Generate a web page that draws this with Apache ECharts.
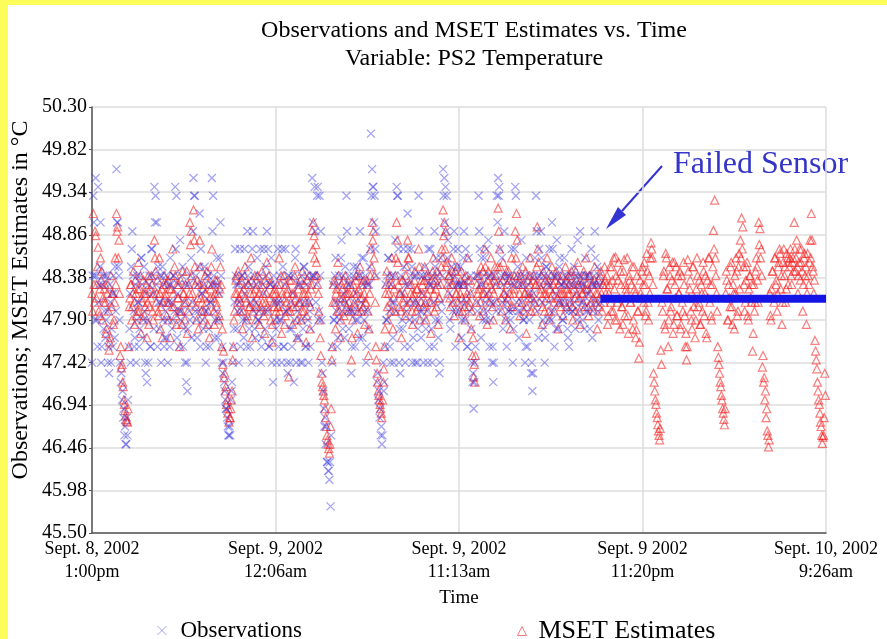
<!DOCTYPE html>
<html>
<head>
<meta charset="utf-8">
<script src="https://cdn.jsdelivr.net/npm/echarts@6/dist/echarts.min.js"></script>
<style>
html,body{margin:0;padding:0;background:#fff;}
#chart{width:887px;height:639px;}
</style>
</head>
<body>
<div id="chart"></div>
<script>
// X axis: sample number (two readings per step: A at even samples, B at odd samples)
const xTickSamples = [0, 300, 600, 900, 1200];
const xTickLabels = ['Sept. 8, 2002\n1:00pm', 'Sept. 9, 2002\n12:06am', 'Sept. 9, 2002\n11:13am', 'Sept. 9 2002\n11:20pm', 'Sept. 10, 2002\n9:26am'];
const yTicks = [45.50, 45.98, 46.46, 46.94, 47.42, 47.90, 48.38, 48.86, 49.34, 49.82, 50.30];

// Observations, even samples (0..830)
const observationsA = [
47.42,49.3,48.4,49.5,47.9,49.4,48.3,49.0,47.6,48.4,48.0,47.7,48.4,47.42,47.3,48.1,47.8,47.6,48.2,48.5,49.6,49.0,48.4,47.42,47.3,47.1,46.9,46.7,46.5,46.6,
47.6,48.2,48.5,48.9,48.0,47.7,47.42,48.4,48.1,47.8,48.6,48.3,47.9,48.0,47.3,47.2,47.42,48.4,47.6,48.7,48.2,49.4,49.3,49.0,48.5,47.8,48.1,48.4,47.9,47.6,
48.0,47.7,47.42,48.3,48.6,48.1,47.9,48.4,49.4,49.3,48.2,47.6,48.8,48.0,48.5,47.8,47.42,47.2,47.1,48.3,47.9,48.6,48.1,49.5,49.3,48.4,47.7,48.0,49.1,48.7,
48.2,47.8,48.5,47.42,48.0,48.4,47.6,48.1,49.5,49.3,48.3,47.9,48.6,47.7,48.2,49.0,47.42,47.3,47.2,47.0,46.9,46.7,46.6,46.6,47.1,47.42,47.8,48.7,48.3,48.0,
47.42,48.7,48.0,48.4,47.7,48.2,47.9,48.9,48.5,47.6,48.3,48.7,48.0,47.8,48.1,48.6,47.9,48.4,47.42,47.7,48.2,48.0,48.5,48.9,48.7,47.6,48.3,47.42,47.2,48.1,
48.3,47.42,48.7,47.9,48.1,47.42,48.5,47.6,48.7,48.0,47.3,48.4,47.42,47.8,48.2,47.2,48.6,47.42,48.0,47.7,48.3,47.9,47.42,48.5,48.1,47.6,48.4,47.42,48.0,47.8,
49.5,48.4,49.4,48.1,49.3,47.9,49.3,48.9,47.42,47.1,46.7,46.5,46.3,46.2,46.1,45.8,47.6,48.3,47.9,48.6,48.0,47.7,48.4,48.1,48.8,47.8,48.2,48.5,49.3,48.0,
47.8,48.3,47.3,48.0,48.5,47.6,48.2,47.9,48.4,48.9,48.1,47.7,48.6,48.0,47.42,48.3,47.8,48.5,50.0,49.6,49.4,49.3,48.9,47.2,47.0,46.8,46.6,46.5,47.42,47.2,
48.3,47.9,48.6,48.0,47.42,48.4,47.7,48.1,48.8,49.4,49.3,47.42,47.3,48.2,47.8,48.5,47.42,48.0,49.1,48.3,47.6,48.7,47.42,48.1,47.9,48.4,47.42,49.3,48.0,47.7,
48.2,47.42,48.5,47.8,48.0,48.7,47.6,48.3,47.42,48.1,48.9,47.9,48.4,47.7,47.3,48.6,48.0,49.6,49.5,49.4,49.3,48.8,48.2,47.8,48.5,48.0,48.9,47.6,48.3,48.7,
48.0,48.5,47.7,48.3,48.9,47.9,48.1,47.6,48.6,48.2,47.8,47.2,46.9,47.42,48.4,48.0,49.3,48.7,47.7,48.3,48.0,48.6,47.9,48.2,48.8,47.6,48.4,47.42,47.2,48.1,
48.3,49.3,49.5,49.4,48.0,48.6,47.8,48.9,48.2,47.6,48.4,48.0,47.9,48.7,47.42,48.3,49.4,48.1,48.5,47.7,48.0,48.8,48.3,47.9,47.42,48.6,47.6,48.2,48.4,47.3,
47.1,48.2,48.6,49.3,48.0,47.7,48.4,48.9,48.1,47.8,47.42,48.5,48.3,47.9,48.7,48.0,49.0,48.4,47.6,48.2,48.8,47.8,48.5,48.1,48.3,47.9,48.6,48.0,48.4,47.7,
47.6,48.3,48.7,48.0,48.5,47.8,48.2,48.8,48.4,48.9,48.1,47.9,48.3,48.6,48.0,48.4,48.2,47.8,48.7,47.7,48.3,48.9,48.1,48.5,47.9,48.3
];
// Observations, odd samples (1..831)
const observationsB = [
48.4,49.0,47.9,48.4,47.6,48.1,48.5,47.42,48.3,47.8,48.4,47.9,48.0,47.6,48.3,47.42,48.2,48.4,47.7,48.0,49.0,48.5,47.9,47.2,47.0,46.8,46.6,46.5,46.8,47.0,
47.8,47.42,48.7,48.4,47.6,48.3,47.9,48.1,47.6,48.4,48.6,47.7,48.5,47.42,48.2,47.9,48.3,47.6,48.7,48.4,47.8,49.0,48.3,47.6,48.1,48.4,47.42,48.5,48.3,47.7,
48.4,47.9,48.1,47.6,48.3,47.8,48.4,48.0,48.7,47.7,48.3,48.0,47.9,48.4,47.6,48.1,48.3,47.42,47.8,48.0,48.4,47.7,48.9,49.3,48.0,47.9,48.3,48.5,47.6,48.2,
47.9,48.3,48.0,47.6,48.4,47.8,48.1,48.3,48.9,48.4,47.7,48.0,48.3,47.9,48.6,48.4,47.6,47.42,47.1,46.9,46.8,46.6,46.7,47.0,47.2,47.6,48.1,48.4,47.8,48.3,
48.1,47.6,48.4,47.9,48.7,48.3,47.6,48.4,47.8,48.1,47.42,48.9,48.4,47.7,48.3,47.9,48.0,48.7,47.6,48.3,48.7,47.8,48.4,48.0,47.6,48.3,48.6,47.7,48.4,47.9,
47.8,48.1,47.6,48.4,47.9,48.7,47.6,48.3,48.0,47.42,48.4,47.8,48.1,47.6,48.4,47.9,48.7,47.7,48.3,48.1,47.42,48.4,47.8,48.5,47.6,48.3,47.9,48.1,47.6,48.4,
49.0,48.4,48.9,48.3,49.4,48.0,48.4,47.9,47.3,46.9,46.8,46.7,46.3,46.2,46.3,46.6,47.42,47.9,48.4,48.1,47.6,48.3,47.9,48.6,48.0,48.4,47.7,48.1,48.9,48.3,
48.4,48.0,47.6,48.4,48.1,47.9,48.5,48.0,47.7,48.4,48.6,48.3,47.9,48.4,47.6,48.0,48.3,48.7,49.3,49.4,49.0,48.7,48.4,47.3,47.1,46.9,46.7,46.6,47.1,47.6,
47.9,48.4,48.6,47.6,48.3,48.1,47.42,48.4,48.0,49.3,48.7,47.8,48.4,47.9,48.7,47.6,48.3,48.1,48.7,47.9,48.4,48.5,47.7,48.4,47.42,48.1,47.8,48.9,48.4,48.0,
48.4,47.9,48.1,48.4,47.42,48.3,48.7,47.8,48.4,47.6,48.5,48.6,48.3,47.9,47.42,48.1,48.4,49.3,49.0,48.9,48.6,48.3,47.9,48.4,48.1,48.7,48.4,48.0,48.5,48.3,
48.3,48.1,47.9,48.6,48.4,48.7,47.6,48.3,48.0,48.4,47.42,47.3,47.2,47.6,48.1,48.4,48.9,48.3,48.6,47.9,48.4,48.1,48.7,48.0,48.4,47.9,48.1,47.6,47.42,48.4,
48.0,49.0,49.3,48.7,48.4,48.1,48.3,48.4,47.9,48.1,48.0,48.4,48.3,48.0,47.8,48.7,49.3,48.4,48.0,48.3,48.4,48.1,47.9,48.4,47.6,48.0,48.3,47.9,48.1,47.42,
47.3,48.4,48.1,48.9,48.4,48.7,48.3,48.6,47.9,48.4,47.7,48.5,48.4,48.1,48.3,47.9,48.7,48.0,48.4,47.8,48.4,48.1,48.6,48.3,47.9,48.4,48.1,48.3,47.8,48.0,
48.1,48.4,48.0,48.3,48.1,48.4,47.9,48.3,48.0,48.4,48.3,48.1,47.8,48.4,48.2,48.0,48.4,48.1,48.3,48.0,48.4,48.6,48.3,48.0,48.4,48.1
];

// MSET estimates, even samples (0..1198)
const estimatesA = [
48.2,49.1,48.1,48.85,48.3,48.72,47.95,48.6,48.45,48.15,48.25,48.1,47.8,48.3,47.56,47.7,48.05,48.2,47.9,48.6,49.1,48.95,48.8,47.5,47.36,47.2,47.0,46.88,46.78,46.75,
47.6,48.15,48.3,48.05,48.45,47.85,48.2,48.0,48.55,48.25,47.75,48.1,48.35,47.95,48.2,47.7,48.4,48.05,48.15,48.3,47.9,48.8,48.45,48.2,48.0,48.6,47.8,48.25,48.1,48.4,
48.2,47.95,48.35,48.1,47.7,48.25,48.7,48.05,48.4,47.85,48.15,48.3,47.6,48.0,48.45,48.2,47.9,48.1,47.75,48.3,49.0,48.9,48.2,49.14,48.5,48.05,48.35,47.8,48.8,48.15,
48.1,48.3,47.9,48.2,48.45,48.0,47.7,48.25,48.7,48.15,47.85,48.35,48.05,48.2,47.95,48.5,47.6,47.4,47.25,47.1,46.95,46.85,46.75,46.8,47.0,47.45,47.9,48.2,48.4,48.1,
48.15,48.0,48.35,47.8,48.25,48.5,48.1,47.95,48.3,48.05,48.6,47.7,48.2,48.4,47.9,48.15,48.3,47.85,48.05,48.45,48.2,47.75,48.1,48.55,48.0,48.3,47.9,47.65,48.2,48.05,
48.2,47.9,48.05,48.6,48.3,47.75,48.15,48.4,47.95,48.1,48.25,47.26,48.0,48.35,47.85,48.2,48.5,48.05,47.7,48.3,48.1,47.9,48.45,48.0,48.2,47.65,48.35,48.1,47.8,48.25,
48.91,49.0,48.6,48.75,48.4,48.2,47.9,47.5,47.2,47.1,47.0,46.8,46.6,46.5,46.4,46.7,47.45,48.1,48.35,47.8,48.25,48.55,48.0,47.7,48.3,48.15,47.95,48.4,48.05,48.2,
48.1,48.3,47.45,47.9,48.2,48.05,48.4,47.75,48.25,48.5,48.0,48.15,48.35,47.85,48.1,48.3,47.5,48.2,48.7,49.0,48.9,48.4,47.6,47.3,47.1,47.0,46.9,46.8,47.2,47.6,
48.2,48.45,47.9,48.3,48.1,48.6,47.8,48.25,48.4,49.0,48.55,48.05,48.2,47.7,48.35,48.15,47.95,48.5,48.8,48.6,48.1,48.3,47.85,48.2,48.45,48.0,48.25,48.7,47.9,48.1,
48.3,48.05,48.5,47.9,48.2,48.4,48.1,47.75,48.35,48.6,48.0,48.25,48.45,47.85,48.15,48.3,48.7,49.14,49.0,48.9,48.55,48.2,48.4,48.05,48.6,48.3,47.95,48.45,48.2,48.1,
47.7,48.2,48.45,48.0,48.3,47.9,48.15,48.6,48.05,48.35,47.8,47.5,47.26,47.2,48.1,48.4,48.25,47.95,48.5,48.2,48.0,48.7,48.3,47.85,48.45,48.1,48.6,48.25,47.9,48.35,
48.4,48.1,49.16,48.7,48.3,48.0,48.55,48.2,47.9,48.45,48.15,48.35,47.8,48.6,48.05,48.25,48.9,49.1,48.4,48.1,47.95,48.3,48.5,48.0,48.2,47.75,48.35,48.15,48.6,48.0,
48.2,48.4,48.0,48.3,48.95,48.55,48.1,48.25,47.85,48.45,48.0,48.2,48.6,48.35,47.9,48.15,48.5,48.3,48.0,48.25,48.4,47.8,48.1,48.35,48.2,47.95,48.3,48.5,48.05,48.2,
48.3,48.1,48.45,47.9,48.25,48.0,48.35,48.55,48.15,47.85,48.3,48.2,48.45,48.05,48.6,48.25,47.95,48.4,48.1,48.3,48.0,48.5,48.2,47.8,48.35,48.15,48.45,48.0,48.3,48.5,
48.2,48.4,47.95,48.3,48.1,48.5,48.0,48.25,48.61,47.9,48.35,48.15,48.45,48.05,47.85,48.58,48.3,48.2,47.95,48.4,48.1,48.3,47.8,48.5,48.2,47.79,48.0,47.47,48.35,48.15,
48.5,48.1,48.3,48.0,48.45,47.9,48.2,48.77,48.6,47.3,47.1,46.95,46.8,46.65,46.55,47.56,48.1,48.4,47.85,48.65,48.25,47.6,48.5,48.0,48.35,47.75,48.55,48.15,47.95,48.4,
48.2,47.8,48.4,48.0,48.3,47.6,47.45,48.58,48.15,48.35,47.9,48.5,48.05,47.7,48.25,48.4,48.1,47.85,48.3,48.0,48.45,48.2,47.75,48.35,48.6,48.1,47.95,48.3,48.91,49.25,
48.4,48.0,47.48,47.3,47.15,47.0,46.85,46.72,48.2,48.35,47.9,48.15,48.5,48.05,48.3,47.8,48.2,48.45,48.0,48.65,48.8,49.05,48.95,48.3,48.1,48.5,47.95,48.25,48.4,48.1,
47.55,48.3,48.1,48.6,48.35,49.0,48.93,48.7,47.37,47.2,47.0,46.8,46.65,46.47,48.2,47.9,48.45,48.15,48.6,48.3,48.0,48.5,48.7,48.25,47.85,48.55,48.4,48.1,48.65,48.3,
48.5,48.7,48.3,48.6,49.0,48.45,48.8,48.2,48.55,48.35,48.7,48.0,48.6,48.4,47.85,48.65,48.3,48.8,49.1,48.5,48.2,47.67,47.45,47.2,47.0,46.85,46.7,46.51,46.6,47.3
];
// MSET estimates, odd samples (1..1199)
const estimatesB = [
48.0,48.3,48.9,48.15,48.5,48.0,48.25,48.35,47.9,48.1,48.3,47.75,48.2,48.0,47.65,48.4,48.2,47.85,48.1,48.3,48.9,48.6,48.2,47.6,47.4,47.15,46.95,46.82,46.76,46.9,
48.05,48.3,47.9,48.2,48.1,48.35,47.95,48.25,48.0,48.4,48.15,47.9,48.2,48.05,48.3,48.1,47.85,48.25,48.4,48.0,48.2,48.6,48.1,48.35,47.95,48.2,48.05,47.7,48.3,48.15,
48.3,48.1,47.9,48.25,48.4,48.05,48.2,48.5,47.95,48.3,48.15,48.0,48.35,47.85,48.2,48.1,48.3,48.45,48.0,48.2,48.75,48.4,48.1,48.8,48.3,47.9,48.15,48.3,48.5,48.0,
48.25,48.0,48.4,48.1,47.85,48.3,48.15,48.5,48.3,48.0,48.2,48.1,48.35,47.9,48.25,48.3,47.8,47.55,47.3,47.15,47.0,46.9,46.8,46.9,47.1,47.6,48.0,48.35,48.2,48.45,
48.3,48.1,48.2,48.0,48.4,48.15,47.9,48.3,48.05,48.2,48.35,48.0,48.1,48.25,48.05,48.4,48.2,48.0,48.3,48.1,47.95,48.35,48.2,48.05,48.4,48.15,48.3,47.85,48.1,48.25,
48.0,48.3,48.15,48.0,48.4,48.2,48.05,47.85,48.3,48.2,48.0,48.35,48.1,48.2,48.05,48.4,48.15,47.9,48.25,48.1,48.35,48.0,48.2,48.3,48.1,47.95,48.2,48.4,48.05,48.3,
48.7,48.85,48.4,48.55,48.3,48.0,47.7,47.3,47.15,47.05,46.9,46.7,46.55,46.45,46.5,46.9,47.6,48.3,48.1,48.2,48.0,48.4,48.15,47.9,48.25,48.35,48.1,48.2,48.3,48.0,
48.2,48.0,47.7,48.3,48.1,48.35,48.2,48.0,48.4,48.15,48.3,48.05,48.2,48.1,48.35,48.0,47.8,48.4,48.5,48.8,48.6,48.1,47.45,47.2,47.05,46.95,46.85,47.0,47.35,47.8,
48.3,48.05,48.2,48.4,48.0,48.3,48.15,48.0,48.6,48.8,48.3,48.2,48.0,48.35,48.1,48.2,48.4,48.05,48.6,48.3,48.2,48.0,48.15,48.35,48.1,48.25,48.05,48.5,48.2,48.35,
48.2,48.35,48.1,48.4,48.0,48.3,48.25,48.1,48.45,48.2,48.35,48.05,48.3,48.15,48.4,48.5,48.6,48.85,48.7,48.5,48.3,48.4,48.15,48.3,48.45,48.1,48.35,48.2,48.5,48.3,
48.0,48.35,48.15,48.3,48.05,48.4,48.2,48.35,48.1,48.2,48.0,47.7,47.4,47.5,48.3,48.2,48.4,48.1,48.3,48.45,48.2,48.5,48.15,48.35,48.2,48.3,48.4,48.05,48.2,48.5,
48.3,48.5,48.9,48.5,48.15,48.35,48.2,48.4,48.1,48.3,48.45,48.2,48.05,48.35,48.2,48.4,48.6,48.8,48.3,48.2,48.4,48.1,48.3,48.2,48.45,48.05,48.2,48.4,48.3,48.15,
48.35,48.1,48.3,48.5,48.7,48.3,48.2,48.4,48.05,48.2,48.35,48.15,48.3,48.0,48.25,48.4,48.2,48.1,48.35,48.45,48.15,48.3,48.2,48.05,48.4,48.2,48.1,48.35,48.25,48.4,
48.2,48.4,48.05,48.3,48.15,48.45,48.2,48.3,48.0,48.35,48.2,48.1,48.4,48.25,48.3,48.05,48.4,48.2,48.3,48.15,48.35,48.1,48.3,48.2,48.05,48.4,48.2,48.3,48.1,48.35,
48.3,47.85,48.2,48.5,48.0,48.35,48.6,47.9,48.4,48.1,48.55,47.8,48.3,48.05,48.45,47.95,48.25,48.6,47.75,48.35,48.1,48.5,47.9,48.25,47.7,48.4,48.0,47.65,48.2,48.45,
48.3,48.55,47.95,48.65,48.1,48.4,48.6,48.7,48.3,47.2,47.0,46.85,46.72,46.6,46.68,47.4,48.0,48.45,47.8,48.6,48.25,47.9,48.4,48.05,48.55,47.85,48.3,48.5,47.95,48.2,
48.45,47.85,48.1,48.55,47.95,47.75,47.6,48.45,48.25,48.0,47.8,48.5,48.15,47.9,48.6,48.05,48.35,47.85,48.2,48.55,47.95,48.4,47.7,48.15,48.6,48.3,47.9,48.5,48.7,48.6,
48.2,47.6,47.4,47.2,47.05,46.9,46.78,46.9,48.45,47.9,48.3,48.05,48.55,47.85,48.2,48.4,48.6,47.95,48.5,48.25,48.6,48.7,48.5,48.0,48.35,48.55,47.9,48.4,48.15,48.3,
47.75,48.0,48.45,48.5,48.1,48.75,48.6,48.4,47.5,47.25,47.1,46.9,46.6,46.55,47.95,48.25,48.45,48.1,48.6,48.35,48.2,48.55,48.65,48.4,48.1,48.7,48.5,48.25,48.6,48.55,
48.6,48.4,48.55,48.45,48.7,48.6,48.5,48.4,48.7,48.55,48.45,48.3,48.65,48.5,48.2,48.4,48.55,48.6,48.8,48.45,48.35,47.55,47.35,47.1,46.95,46.75,46.6,46.58,46.8,47.05
];

// Failed sensor: constant reading from the failure sample to the end
const failedSamples = [831, 1200];
const failedValue = 48.14;

const SERIF = "'Liberation Serif','Times New Roman',serif";
const X_PATH = 'path://M0,0L10,10M10,0L0,10';
const OBS_COLOR = 'rgba(45,45,225,0.55)';
const EST_COLOR = 'rgba(245,25,25,0.7)';

function pairs(a, b) {
  const out = [];
  for (let i = 0; i < a.length; i++) {
    out.push([2 * i, a[i]]);
    if (i < b.length) out.push([2 * i + 1, b[i]]);
  }
  return out;
}

const chart = echarts.init(document.getElementById('chart'), null, {renderer: 'canvas'});

const option = {
  animation: false,
  backgroundColor: '#ffffff',
  grid: {left: 92, top: 107, width: 734, height: 426, containLabel: false},
  xAxis: {
    type: 'value', min: 0, max: 1200, interval: 300,
    name: 'Time', nameLocation: 'middle', nameGap: 56,
    nameTextStyle: {fontFamily: SERIF, fontSize: 19, color: '#000'},
    axisLine: {show: true, lineStyle: {color: '#555', width: 1.5}},
    axisTick: {show: false},
    axisLabel: {
      margin: 5, fontFamily: SERIF, fontSize: 18, color: '#000', lineHeight: 23,
      formatter: function (v) { const k = xTickSamples.indexOf(v); return k >= 0 ? xTickLabels[k] : ''; }
    },
    splitLine: {show: true, lineStyle: {color: '#dcdcdc', width: 1.5}}
  },
  yAxis: {
    type: 'value', min: 45.5, max: 50.3,
    axisLine: {show: true, lineStyle: {color: '#555', width: 1.5}},
    axisTick: {show: true, length: 3, customValues: yTicks, lineStyle: {color: '#555'}},
    axisLabel: {
      customValues: yTicks, margin: 5, fontFamily: SERIF, fontSize: 20, color: '#000',
      formatter: function (v) { return Number(v).toFixed(2); }
    },
    splitLine: {show: true, lineStyle: {color: '#dcdcdc', width: 1.5}}
  },
  legend: [
    {
      left: 152, top: 614, itemWidth: 9, itemHeight: 9,
      textStyle: {fontFamily: SERIF, fontSize: 23, color: '#000', padding: [0, 0, 0, 9]},
      data: [{name: 'Observations', icon: X_PATH, itemStyle: {color: 'rgba(0,0,0,0)', borderColor: OBS_COLOR, borderWidth: 1}}]
    },
    {
      left: 512, top: 613, itemWidth: 9, itemHeight: 9,
      textStyle: {fontFamily: SERIF, fontSize: 26, color: '#000', padding: [0, 0, 0, 7]},
      data: [{name: 'MSET Estimates', icon: 'triangle', itemStyle: {color: 'rgba(0,0,0,0)', borderColor: EST_COLOR, borderWidth: 1}}]
    }
  ],
  series: [
    {
      name: 'MSET Estimates', type: 'scatter', symbol: 'triangle', symbolSize: 8,
      itemStyle: {color: 'rgba(0,0,0,0)', borderColor: EST_COLOR, borderWidth: 1.2},
      data: pairs(estimatesA, estimatesB),
      z: 2
    },
    {
      name: 'Observations', type: 'scatter', symbol: X_PATH, symbolSize: 8,
      itemStyle: {color: 'rgba(0,0,0,0)', borderColor: OBS_COLOR, borderWidth: 1.3},
      data: pairs(observationsA, observationsB),
      z: 3
    },
    {
      name: 'Failed', type: 'line', symbol: 'none', silent: true,
      lineStyle: {color: '#1414e6', width: 8},
      data: failedSamples.map(function (s) { return [s, failedValue]; }),
      z: 4
    }
  ],
  graphic: [
    {type: 'rect', shape: {x: 0, y: 0, width: 8, height: 639}, style: {fill: '#fcfc5a'}, silent: true},
    {type: 'rect', shape: {x: 0, y: 0, width: 887, height: 5}, style: {fill: '#fcfc5a'}, silent: true},
    {type: 'text', x: 474, y: 45, style: {text: 'Observations and MSET Estimates vs. Time\nVariable: PS2 Temperature', fontFamily: SERIF, fontSize: 24, lineHeight: 28, fill: '#000', align: 'center', verticalAlign: 'middle'}},
    {type: 'text', x: 21, y: 300, rotation: Math.PI / 2, style: {text: 'Observations; MSET Estimates in °C', fontFamily: SERIF, fontSize: 24, fill: '#000', align: 'center', verticalAlign: 'middle'}},
    {type: 'text', x: 673, y: 165, style: {text: 'Failed Sensor', fontFamily: SERIF, fontSize: 32, fill: '#3434c8', align: 'left', verticalAlign: 'middle'}},
    {type: 'line', shape: {x1: 662, y1: 166, x2: 622, y2: 211}, style: {stroke: '#3434d0', lineWidth: 2}},
    {type: 'polygon', shape: {points: [[606, 229], [626, 215], [618, 207]]}, style: {fill: '#3434d0'}}
  ]
};
chart.setOption(option);
</script>
</body>
</html>
